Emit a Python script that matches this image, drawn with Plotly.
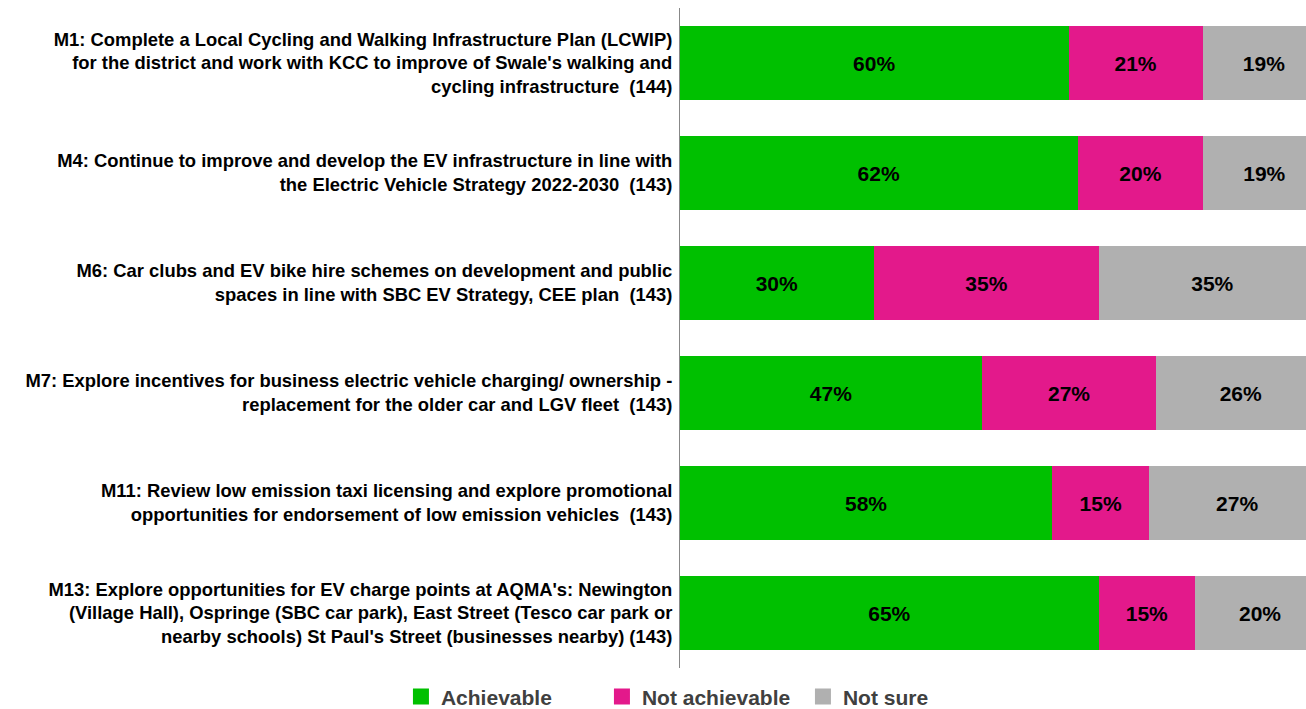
import plotly.graph_objects as go

categories = [
    "M1: Complete a Local Cycling and Walking Infrastructure Plan (LCWIP)<br>for the district and work with KCC to improve of Swale's walking and<br>cycling infrastructure  (144)",
    "M4: Continue to improve and develop the EV infrastructure in line with<br>the Electric Vehicle Strategy 2022-2030  (143)",
    "M6: Car clubs and EV bike hire schemes on development and public<br>spaces in line with SBC EV Strategy, CEE plan  (143)",
    "M7: Explore incentives for business electric vehicle charging/ ownership -<br>replacement for the older car and LGV fleet  (143)",
    "M11: Review low emission taxi licensing and explore promotional<br>opportunities for endorsement of low emission vehicles  (143)",
    "M13: Explore opportunities for EV charge points at AQMA's: Newington<br>(Village Hall), Ospringe (SBC car park), East Street (Tesco car park or<br>nearby schools) St Paul's Street (businesses nearby) (143)",
]

achievable = [60.2, 61.6, 30.0, 46.8, 57.7, 64.9]
not_achievable = [20.8, 19.5, 35.0, 27.0, 15.0, 14.9]
not_sure = [19.0, 18.9, 35.0, 26.2, 27.3, 20.2]

achievable_labels = [60, 62, 30, 47, 58, 65]
not_achievable_labels = [21, 20, 35, 27, 15, 15]
not_sure_labels = [19, 19, 35, 26, 27, 20]

series = [
    ("Achievable", achievable, achievable_labels, "#00C000"),
    ("Not achievable", not_achievable, not_achievable_labels, "#E3198B"),
    ("Not sure", not_sure, not_sure_labels, "#B0B0B0"),
]

FONT = "Arial, Liberation Sans, sans-serif"

fig = go.Figure()
for name, vals, labs, color in series:
    fig.add_trace(go.Bar(
        y=categories, x=vals, orientation="h", name=name,
        marker=dict(color=color, line=dict(width=0)),
        text=[f"{v}%" for v in labs], textposition="inside",
        insidetextanchor="middle", textangle=0,
        textfont=dict(family=FONT, size=21, color="black", weight="bold"),
        showlegend=False, hoverinfo="skip",
    ))
    fig.add_trace(go.Scatter(
        x=[None], y=[None], mode="markers", name=name,
        marker=dict(symbol="square", size=22, color=color),
        showlegend=True,
    ))

fig.update_layout(
    width=1306, height=709,
    barmode="stack", bargap=0.327,
    margin=dict(l=680, r=0, t=8, b=41),
    plot_bgcolor="white", paper_bgcolor="white",
    font=dict(family=FONT),
    xaxis=dict(range=[0, 97], visible=False, fixedrange=True),
    yaxis=dict(
        autorange="reversed", showline=True, linecolor="#888888", linewidth=1,
        ticks="", showgrid=False, zeroline=False, ticklabelstandoff=3,
        tickfont=dict(family=FONT, size=18.4, color="black", weight="bold"),
    ),
    legend=dict(
        orientation="h", traceorder="normal",
        xref="container", yref="container",
        x=0.307, xanchor="left", y=0.017, yanchor="middle",
        font=dict(family=FONT, size=21, color="#404040", weight="bold"),
        entrywidth=156, entrywidthmode="pixels", itemsizing="trace",
        bgcolor="rgba(0,0,0,0)",
    ),
)

fig.write_html(
    "out.html",
    config={"displayModeBar": False},
    post_script="document.body.style.margin='0';document.body.style.overflow='hidden';",
)
